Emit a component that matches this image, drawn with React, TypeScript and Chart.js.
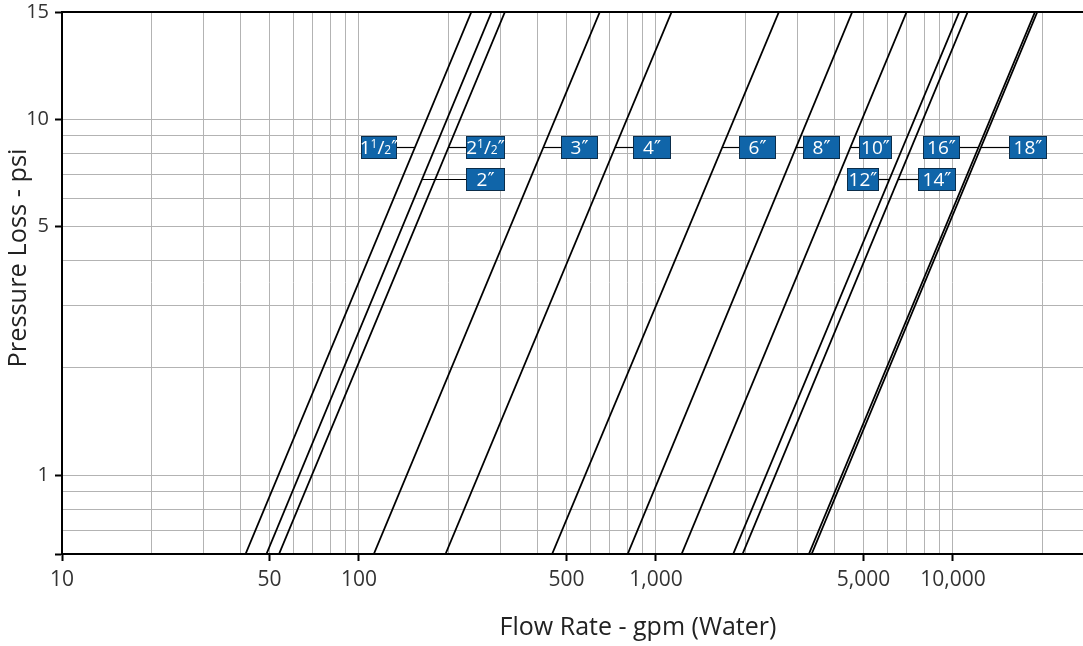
import React, { useEffect, useRef } from "react";
import { Chart, registerables } from "chart.js";

Chart.register(...registerables);

// ---------- data ----------
const pipeSizes = ['1 1/2"', '2"', '2 1/2"', '3"', '4"', '6"', '8"', '10"', '12"', '14"', '16"', '18"'];
const psiLow = 0.6;
const psiHigh = 20;
// flow (gpm) of each pipe line at the bottom (psiLow) and top (psiHigh) of the chart
const flowAtLowPsi = [41.5, 48.8, 53.8, 112.2, 195.6, 447, 803, 1220, 1820, 1957, 3273, 3343];
const flowAtHighPsi = [239, 279.5, 310, 647, 1129, 2594, 4580, 6982, 10500, 11210, 18890, 19230];

const xMin = 10;
const xMax = 27410;
const xTickValues = [10, 50, 100, 500, 1000, 5000, 10000];
const xTickLabels = ["10", "50", "100", "500", "1,000", "5,000", "10,000"];
const yTickValues = [0.6, 1, 5, 10, 20];
const yTickLabels = ["", "1", "5", "10", "15"];

// callouts: label text, pipe line index, pressure of leader, box span in gpm
const calloutText = ["1 1/2", "2 1/2", "2", "3", "4", "6", "8", "10", "16", "18", "12", "14"];
const calloutLine = [0, 2, 1, 3, 4, 5, 6, 7, 10, 11, 8, 9];
const calloutPsi = [8.33, 8.33, 6.81, 8.33, 8.33, 8.33, 8.33, 8.33, 8.33, 8.33, 6.81, 6.81];
const calloutFrom = [101.2, 229, 229, 478, 838, 1906, 3131, 4836, 7943, 15470, 4406, 7641];
const calloutTo = [134.8, 309.8, 309.8, 639, 1120, 2540, 4164, 6218, 10560, 20690, 5647, 10210];

const xTitle = "Flow Rate - gpm (Water)";
const yTitle = "Pressure Loss - psi";

// ---------- helpers ----------
const xGrid: number[] = [];
for (let d = 10; d <= 10000; d *= 10) {
  for (let m = 1; m <= 9; m++) {
    const v = m * d;
    if (v <= xMax) xGrid.push(v);
  }
}
const yGrid = [0.6, 0.7, 0.8, 0.9, 1, 2, 3, 4, 5, 6, 7, 8, 9, 10, 20];

const near = (a: number, b: number) => Math.abs(a - b) < 1e-6 * Math.max(1, Math.abs(b));
const xLabelFor = (v: number) => {
  const i = xTickValues.findIndex((t) => near(t, v));
  return i >= 0 ? xTickLabels[i] : "";
};
const yIndexFor = (v: number) => yTickValues.findIndex((t) => near(t, v));

function flowOnLine(i: number, psi: number) {
  const l0 = Math.log10(flowAtLowPsi[i]);
  const l1 = Math.log10(flowAtHighPsi[i]);
  const t = (Math.log10(psi) - Math.log10(psiLow)) / (Math.log10(psiHigh) - Math.log10(psiLow));
  return Math.pow(10, l0 + t * (l1 - l0));
}

const FONT = "'Open Sans', 'Noto Sans', sans-serif";

function drawLabelText(ctx: CanvasRenderingContext2D, text: string, cx: number, baseY: number) {
  const big = 19;
  const small = 12;
  type Part = { t: string; size: number; dy: number; fam?: string };
  const parts: Part[] = [];
  if (text.includes(" ")) {
    const [whole, frac] = text.split(" ");
    const [num, den] = frac.split("/");
    parts.push({ t: whole, size: big, dy: 0 });
    parts.push({ t: num, size: small, dy: -6 });
    parts.push({ t: "/", size: big, dy: 0 });
    parts.push({ t: den, size: small, dy: 0 });
  } else {
    parts.push({ t: text, size: big, dy: 0 });
  }
  parts.push({ t: "\u2033", size: big, dy: 0, fam: "'DejaVu Sans'" });
  let total = 0;
  const widths = parts.map((p) => {
    ctx.font = `${p.size}px ${p.fam || FONT}`;
    const w = ctx.measureText(p.t).width;
    total += w;
    return w;
  });
  let x = cx - total / 2;
  ctx.textAlign = "left";
  ctx.textBaseline = "alphabetic";
  parts.forEach((p, k) => {
    ctx.font = `${p.size}px ${p.fam || FONT}`;
    ctx.fillText(p.t, x, baseY + p.dy);
    x += widths[k];
  });
}

function fitFont(ctx: CanvasRenderingContext2D, text: string, target: number) {
  ctx.font = `20px ${FONT}`;
  const w = ctx.measureText(text).width;
  return (20 * target) / w;
}

const overlayPlugin = {
  id: "overlay",
  afterDatasetsDraw(chart: any) {
    const { ctx, chartArea: a, scales } = chart;
    const xs = scales.x;
    const ys = scales.y;
    ctx.save();
    // top border
    ctx.strokeStyle = "#000";
    ctx.lineWidth = 2;
    ctx.beginPath();
    ctx.moveTo(a.left - 1, a.top);
    ctx.lineTo(a.right, a.top);
    ctx.stroke();

    // callouts
    const h = 23;
    for (let k = 0; k < calloutText.length; k++) {
      const yp = Math.round(ys.getPixelForValue(calloutPsi[k])) + 0.5;
      const lx = xs.getPixelForValue(flowOnLine(calloutLine[k], calloutPsi[k]));
      const bl = Math.round(xs.getPixelForValue(calloutFrom[k]));
      const br = Math.round(xs.getPixelForValue(calloutTo[k]));
      ctx.strokeStyle = "#000";
      ctx.lineWidth = 1.2;
      ctx.beginPath();
      if (lx < bl) {
        ctx.moveTo(lx, yp);
        ctx.lineTo(bl, yp);
      } else {
        ctx.moveTo(br, yp);
        ctx.lineTo(lx, yp);
      }
      ctx.stroke();
      const top = Math.round(yp - h / 2);
      ctx.fillStyle = "#1065a9";
      ctx.fillRect(bl, top, br - bl, h);
      ctx.strokeStyle = "#0b2d4a";
      ctx.lineWidth = 1;
      ctx.strokeRect(bl + 0.5, top + 0.5, br - bl - 1, h - 1);
      ctx.fillStyle = "#ffffff";
      drawLabelText(ctx, calloutText[k], (bl + br) / 2, top + 18);
    }
    ctx.restore();
  },
  afterDraw(chart: any) {
    const { ctx } = chart;
    ctx.save();
    ctx.fillStyle = "#222";
    ctx.textAlign = "center";
    ctx.textBaseline = "alphabetic";
    ctx.font = `${fitFont(ctx, xTitle, 277)}px ${FONT}`;
    ctx.fillText(xTitle, 638, 635);
    ctx.font = `${fitFont(ctx, yTitle, 219)}px ${FONT}`;
    ctx.translate(26, 258);
    ctx.rotate(-Math.PI / 2);
    ctx.fillText(yTitle, 0, 0);
    ctx.restore();
  },
};

export default function App() {
  const ref = useRef<HTMLCanvasElement>(null);
  useEffect(() => {
    document.body.style.margin = "0";
    const datasets = pipeSizes.map((name, i) => ({
      label: name,
      data: [
        { x: flowAtLowPsi[i], y: psiLow },
        { x: flowAtHighPsi[i], y: psiHigh },
      ],
      showLine: true,
      borderColor: "#000",
      borderWidth: 1.8,
      pointRadius: 0,
      fill: false,
    }));
    const chart = new Chart(ref.current as HTMLCanvasElement, {
      type: "scatter",
      data: { datasets },
      plugins: [overlayPlugin],
      options: {
        animation: false,
        responsive: false,
        devicePixelRatio: 1,
        layout: { padding: { top: 12, right: 0, left: 0, bottom: 0 } },
        plugins: { legend: { display: false }, tooltip: { enabled: false } },
        scales: {
          x: {
            type: "logarithmic",
            min: xMin,
            max: xMax,
            afterBuildTicks: (s: any) => {
              s.ticks = xGrid.map((v) => ({ value: v }));
            },
            afterFit: (s: any) => {
              s.height = 92;
              s.paddingLeft = 0;
              s.paddingRight = 0;
            },
            grid: {
              color: "#b3b3b3",
              lineWidth: 1,
              tickLength: 7,
              tickColor: (c: any) => (xLabelFor(c.tick?.value) ? "#000" : "rgba(0,0,0,0)"),
              tickWidth: 2,
            },
            border: { color: "#000", width: 2 },
            ticks: {
              autoSkip: false,
              maxRotation: 0,
              minRotation: 0,
              padding: 6,
              color: "#333",
              font: { family: FONT, size: 21 },
              callback: (v: any) => xLabelFor(Number(v)),
            },
          },
          y: {
            type: "logarithmic",
            min: psiLow,
            max: psiHigh,
            afterBuildTicks: (s: any) => {
              s.ticks = yGrid.map((v) => ({ value: v }));
            },
            afterFit: (s: any) => {
              s.width = 62;
              s.paddingTop = 0;
              s.paddingBottom = 0;
            },
            grid: {
              color: "#b3b3b3",
              lineWidth: 1,
              tickLength: 7,
              tickColor: (c: any) => (yIndexFor(c.tick?.value) >= 0 ? "#000" : "rgba(0,0,0,0)"),
              tickWidth: 2,
            },
            border: { color: "#000", width: 2 },
            ticks: {
              autoSkip: false,
              padding: 6,
              color: "#333",
              font: { family: FONT, size: 20 },
              callback: (v: any) => {
                const i = yIndexFor(Number(v));
                return i >= 0 ? yTickLabels[i] : "";
              },
            },
          },
        },
      },
    } as any);
    return () => chart.destroy();
  }, []);
  return (
    <div style={{ position: "fixed", left: 0, top: 0, width: 1083, height: 646, background: "#fff" }}>
      <canvas ref={ref} width={1083} height={646} style={{ display: "block", width: 1083, height: 646 }} />
    </div>
  );
}
